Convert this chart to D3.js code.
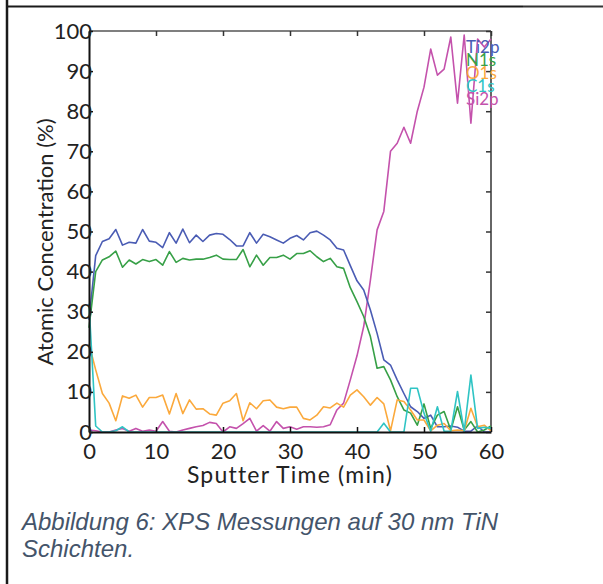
<!DOCTYPE html>
<html>
<head>
<meta charset="utf-8">
<script src="https://cdn.jsdelivr.net/npm/d3@7"></script>
<style>
  html, body { margin: 0; padding: 0; background: #fff; }
  svg { display: block; }
</style>
</head>
<body>
<div id="chart"></div>
<script>
// sputter time in minutes
const time = [0, 1, 2, 3, 4, 5, 6, 7, 8, 9, 10, 11, 12, 13, 14, 15, 16, 17, 18, 19, 20,
  21, 22, 23, 24, 25, 26, 27, 28, 29, 30, 31, 32, 33, 34, 35, 36, 37, 38, 39, 40,
  41, 42, 43, 44, 45, 46, 47, 48, 49, 50, 51, 52, 53, 54, 55, 56, 57, 58, 59, 60];

const ti2p = [28, 44, 47.5, 48.2, 50.5, 46.6, 47.3, 47.1, 50.5, 47.6, 47.3, 46.0, 49.7, 47.1, 50.6, 47.2,
  49.1, 47.5, 49.1, 49.5, 49.3, 48.0, 46.4, 46.4, 49.7, 47.1, 49.3, 48.7, 47.9, 47.1, 48.3, 49.0, 47.9,
  49.7, 50.1, 49.1, 47.9, 45.8, 45.4, 41.5, 37.7, 35.4, 30.4, 24.6, 18.0, 16.7, 13.0, 9.6, 6.3, 5.1,
  3.4, 4.2, 1.3, 1.3, 1.5, 1.2, 0.2, 0.2, 1.5, 0, 0];

const n1s = [26, 40.0, 42.9, 43.7, 45.1, 41.1, 42.9, 41.9, 43.0, 42.5, 43.0, 41.6, 45.0, 42.3, 43.3, 42.9,
  43.1, 43.1, 43.5, 44.1, 43.1, 43.0, 43.0, 45.5, 41.2, 44.1, 41.6, 43.5, 43.5, 44.1, 43.1, 44.5, 44.5,
  45.2, 43.7, 42.5, 43.3, 41.2, 40.8, 36.0, 32.5, 28.8, 23.8, 15.9, 16.3, 13.0, 8.8, 5.5, 4.7, 1.7,
  7.0, 0.9, 4.2, 5.1, 0.5, 6.3, 0.5, 2.6, 0, 0.5, 1.5];

const o1s = [22, 15.5, 9.6, 7.2, 2.8, 9.0, 8.4, 9.2, 6.2, 8.6, 8.6, 9.2, 4.5, 9.6, 4.6, 8.0,
  5.7, 5.8, 4.5, 4.2, 7.2, 7.8, 9.6, 2.8, 7.3, 5.8, 7.8, 8.0, 6.2, 5.8, 6.2, 6.2, 3.4,
  3.0, 4.2, 6.3, 6.0, 7.2, 6.2, 9.2, 10.5, 8.8, 6.7, 8.6, 7.0, 0.3, 8.0, 7.6, 5.5, 3.0,
  3.0, 0.3, 1.7, 2.1, 0.3, 0.5, 0.3, 5.9, 1.3, 1.7, 0.3];

const c1s = [32, 1.5, 0, 0, 0.3, 1.3, 0, 0, 0, 0, 0, 0, 0, 0, 0, 0,
  0, 0, 0, 0, 0, 0, 0, 0, 0, 0, 0, 0, 0, 0, 0, 0, 0,
  0, 0, 0, 0, 0, 0, 0, 0, 0, 0, 0, 2.2, 0, 0, 0, 10.9, 10.9,
  4.7, 0.2, 6.3, 0.2, 0.2, 10.1, 0.2, 14.2, 0.9, 1.2, 0.9];

const si2p = [0.5, 0.3, 0, 0, 0.5, 0.9, 0.2, 0.9, 0.2, 0.5, 0.2, 2.6, 0.2, 0, 0.5, 0.9,
  1.3, 1.6, 2.4, 2.1, 0, 1.3, 0.9, 2.1, 3.4, 0.2, 1.6, 0.2, 2.6, 0.9, 1.3, 0.7, 1.3,
  1.3, 1.2, 1.3, 1.8, 5.5, 7.2, 13.0, 19, 26.3, 37.9, 50.4, 55, 70, 72, 76, 72, 80,
  86, 95.5, 89, 90.5, 98.5, 82, 99, 77, 98, 96, 98];

const seriesNames = ['Ti2p', 'N1s', 'O1s', 'C1s', 'Si2p'];
const seriesColors = ['#4a5cb4', '#37a047', '#fba93c', '#2fc4c4', '#c452ac'];
const xTicks = [0, 10, 20, 30, 40, 50, 60];
const yTicks = [0, 10, 20, 30, 40, 50, 60, 70, 80, 90, 100];
const captionLines = ['Abbildung 6: XPS Messungen auf 30 nm TiN', 'Schichten.'];

const width = 603, height = 584;
const plot = { left: 89, right: 491, top: 31, bottom: 432 };

const svg = d3.select('#chart').append('svg')
  .attr('width', width)
  .attr('height', height);

// page borders of the table cell
svg.append('line')
  .attr('x1', 7).attr('x2', 7).attr('y1', 0).attr('y2', height)
  .attr('stroke', '#1a1a1a').attr('stroke-width', 2.5);
svg.append('line')
  .attr('x1', 6).attr('x2', 523).attr('y1', 6.5).attr('y2', 6.5)
  .attr('stroke', '#1a1a1a').attr('stroke-width', 2);
svg.append('line')
  .attr('x1', 523).attr('x2', width).attr('y1', 6.5).attr('y2', 6.5)
  .attr('stroke', '#333').attr('stroke-width', 2);

const x = d3.scaleLinear().domain([0, 60]).range([plot.left, plot.right]);
const y = d3.scaleLinear().domain([0, 100]).range([plot.bottom, plot.top]);

const tickFont = 'Lato, sans-serif';

// frame: top and right in grey
svg.append('line')
  .attr('x1', plot.left).attr('x2', plot.right).attr('y1', plot.top).attr('y2', plot.top)
  .attr('stroke', '#555').attr('stroke-width', 1.5);
svg.append('line')
  .attr('x1', plot.right).attr('x2', plot.right).attr('y1', plot.top).attr('y2', plot.bottom)
  .attr('stroke', '#333').attr('stroke-width', 1.5);

// top ticks (inward)
svg.append('g')
  .attr('transform', `translate(0,${plot.top})`)
  .call(d3.axisTop(x).tickValues(xTicks).tickSize(-5).tickFormat(''))
  .call(g => g.select('.domain').remove())
  .call(g => g.selectAll('line').attr('stroke', '#333').attr('stroke-width', 1.5));

// right ticks (inward)
svg.append('g')
  .attr('transform', `translate(${plot.right},0)`)
  .call(d3.axisRight(y).tickValues(yTicks).tickSize(-5).tickFormat(''))
  .call(g => g.select('.domain').remove())
  .call(g => g.selectAll('line').attr('stroke', '#333').attr('stroke-width', 1.5));

// series lines
const line = d3.line()
  .x((d, i) => x(time[i]))
  .y(d => y(d));

const seriesData = [si2p, ti2p, n1s, o1s, c1s];
const seriesOrder = [4, 0, 1, 2, 3];

svg.append('g')
  .selectAll('path')
  .data(seriesData)
  .join('path')
  .attr('d', d => line(d))
  .attr('fill', 'none')
  .attr('stroke', (d, i) => seriesColors[seriesOrder[i]])
  .attr('stroke-width', 1.6)
  .attr('stroke-linejoin', 'round');

// bottom axis
const xAxis = svg.append('g')
  .attr('transform', `translate(0,${plot.bottom})`)
  .call(d3.axisBottom(x).tickValues(xTicks).tickSize(-5).tickPadding(11).tickSizeOuter(0));
xAxis.select('.domain').attr('stroke', '#111').attr('stroke-width', 2);
xAxis.selectAll('line').attr('stroke', '#111').attr('stroke-width', 1.5);
xAxis.selectAll('text')
  .attr('font-family', tickFont)
  .attr('font-size', 22)
  .attr('fill', '#222');

// left axis
const yAxis = svg.append('g')
  .attr('transform', `translate(${plot.left},0)`)
  .call(d3.axisLeft(y).tickValues(yTicks).tickSize(-4).tickPadding(-3).tickSizeOuter(0));
yAxis.select('.domain').attr('stroke', '#111').attr('stroke-width', 2);
yAxis.selectAll('line').attr('stroke', '#111').attr('stroke-width', 1.5);
yAxis.selectAll('text')
  .attr('font-family', tickFont)
  .attr('font-size', 22)
  .attr('fill', '#222');

// axis titles
svg.append('text')
  .attr('x', 290)
  .attr('y', 483)
  .attr('text-anchor', 'middle')
  .attr('font-family', tickFont)
  .attr('font-size', 23)
  .attr('letter-spacing', 1.2)
  .attr('fill', '#222')
  .text('Sputter Time (min)');

svg.append('text')
  .attr('transform', 'translate(53,242) rotate(-90)')
  .attr('text-anchor', 'middle')
  .attr('font-family', tickFont)
  .attr('font-size', 22)
  .attr('fill', '#222')
  .text('Atomic Concentration (%)');

// legend in the upper right corner
svg.append('g')
  .selectAll('text')
  .data(seriesNames)
  .join('text')
  .attr('x', 466)
  .attr('y', (d, i) => 53 + i * 13)
  .attr('font-family', tickFont)
  .attr('font-size', 17)
  .attr('fill', (d, i) => seriesColors[i])
  .text(d => d);

// figure caption
svg.append('g')
  .selectAll('text')
  .data(captionLines)
  .join('text')
  .attr('x', 22)
  .attr('y', (d, i) => 530 + i * 27)
  .attr('font-family', 'Liberation Sans, Arial, sans-serif')
  .attr('font-style', 'italic')
  .attr('font-size', 24)
  .attr('fill', '#44546a')
  .text(d => d);
</script>
</body>
</html>
